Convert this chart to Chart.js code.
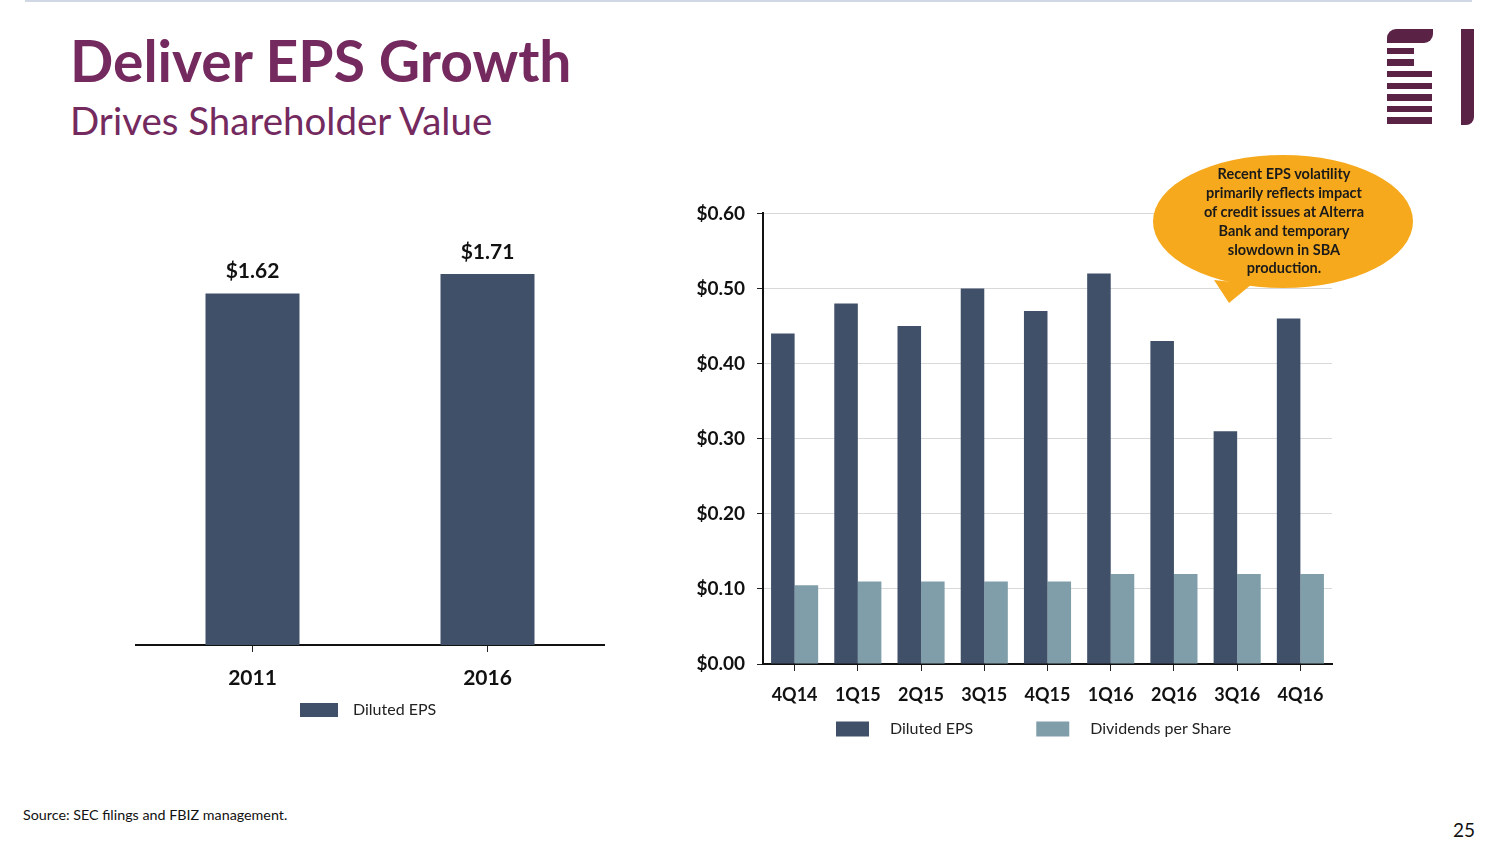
<!DOCTYPE html>
<html>
<head>
<meta charset="utf-8">
<script src="https://cdn.jsdelivr.net/npm/chart.js@4.4.1/dist/chart.umd.min.js"></script>
<style>
  body { margin: 0; width: 1504px; height: 846px; background: #fff; position: relative; overflow: hidden; font-family: Lato, "Open Sans", sans-serif; }
  .topline { position: absolute; left: 25px; top: 0; width: 1447px; height: 2px; background: #cfd8e3; }
  .title { position: absolute; left: 70px; top: 26px; font-size: 57px; font-weight: 700; color: #742a5e; line-height: 1.2; white-space: nowrap; }
  .subtitle { position: absolute; left: 70px; top: 97px; font-size: 38.5px; color: #742a5e; line-height: 1.2; white-space: nowrap; }
  .logo div { position: absolute; background: #5a2346; }
  .box { position: absolute; }
  .source { position: absolute; left: 23px; top: 806px; font-size: 14.3px; color: #111; }
  .pagenum { position: absolute; left: 1453px; top: 818px; font-size: 19px; color: #111; }
  svg.callout { position: absolute; left: 1140px; top: 145px; }
</style>
</head>
<body>
<div class="topline"></div>
<div class="title">Deliver EPS Growth</div>
<div class="subtitle">Drives Shareholder Value</div>

<div class="logo">
  <div style="left:1387px;top:29px;width:46px;height:14px;border-radius:9px 0 9px 0;"></div>
  <div style="left:1387px;top:48px;width:27px;height:6px;"></div>
  <div style="left:1387px;top:59px;width:27px;height:7px;"></div>
  <div style="left:1387px;top:71px;width:45px;height:6px;"></div>
  <div style="left:1387px;top:83px;width:45px;height:6px;"></div>
  <div style="left:1387px;top:94px;width:45px;height:7px;"></div>
  <div style="left:1387px;top:106px;width:45px;height:6px;"></div>
  <div style="left:1387px;top:117px;width:45px;height:7px;"></div>
  <div style="left:1461px;top:29px;width:13px;height:96px;border-radius:0 0 8px 0;"></div>
</div>

<div class="box" style="left:135px;top:190px;width:470px;height:540px;"><canvas id="annualChart"></canvas></div>
<div class="box" style="left:680px;top:190px;width:662px;height:560px;"><canvas id="quarterChart"></canvas></div>

<svg class="callout" width="290" height="170" viewBox="1140 145 290 170">
  <ellipse cx="1283" cy="221.5" rx="130" ry="66.5" fill="#f6a91d"/>
  <polygon points="1214,280 1252,284 1229,303" fill="#f6a91d"/>
  <g font-family="Lato, sans-serif" font-weight="700" font-size="14.5" fill="#1a1a1a" text-anchor="middle" dominant-baseline="central">
    <text x="1284" y="173">Recent EPS volatility</text>
    <text x="1284" y="192">primarily reflects impact</text>
    <text x="1284" y="211">of credit issues at Alterra</text>
    <text x="1284" y="230">Bank and temporary</text>
    <text x="1284" y="249">slowdown in SBA</text>
    <text x="1284" y="267">production.</text>
  </g>
</svg>

<div class="source">Source: SEC filings and FBIZ management.</div>
<div class="pagenum">25</div>

<script>
// ---- data ----
const annualLabels = ["2011", "2016"];
const annualEps = [1.62, 1.71];

const quarterLabels = ["4Q14", "1Q15", "2Q15", "3Q15", "4Q15", "1Q16", "2Q16", "3Q16", "4Q16"];
const quarterEps = [0.44, 0.48, 0.45, 0.50, 0.47, 0.52, 0.43, 0.31, 0.46];
const quarterDividends = [0.105, 0.11, 0.11, 0.11, 0.11, 0.12, 0.12, 0.12, 0.12];

const yTicksQuarter = [0, 0.1, 0.2, 0.3, 0.4, 0.5, 0.6];

const DARK = "#3f5068";
const LIGHT = "#7f9eaa";

// legend drawn under the x axis, boxes + labels from the datasets
const boxLegend = {
  id: "boxLegend",
  afterDraw(chart, args, opts) {
    const { ctx, chartArea } = chart;
    let x = chartArea.left + opts.startX;
    const y = chartArea.bottom + opts.offsetY;
    ctx.save();
    ctx.font = opts.font;
    ctx.textBaseline = "middle";
    chart.data.datasets.forEach(ds => {
      ctx.fillStyle = ds.backgroundColor;
      ctx.fillRect(x, y - opts.boxH / 2, opts.boxW, opts.boxH);
      x += opts.boxW + opts.gap;
      ctx.fillStyle = opts.color;
      ctx.fillText(ds.label, x, y);
      x += ctx.measureText(ds.label).width + opts.spacing;
    });
    ctx.restore();
  }
};

// "$1.62" style labels above bars
const valueLabels = {
  id: "valueLabels",
  afterDatasetsDraw(chart, args, opts) {
    if (!opts.show) return;
    const { ctx } = chart;
    const ds = chart.data.datasets[0];
    ctx.save();
    ctx.font = opts.font;
    ctx.fillStyle = "#111";
    ctx.textAlign = "center";
    ctx.textBaseline = "middle";
    chart.getDatasetMeta(0).data.forEach((bar, i) => {
      ctx.fillText("$" + ds.data[i].toFixed(2), bar.x, bar.y - opts.offset);
    });
    ctx.restore();
  }
};

Chart.register(boxLegend, valueLabels);

function init() {
  new Chart(document.getElementById("annualChart"), {
    type: "bar",
    data: {
      labels: annualLabels,
      datasets: [{ label: "Diluted EPS", data: annualEps, backgroundColor: DARK, categoryPercentage: 0.4, barPercentage: 1 }]
    },
    options: {
      responsive: true,
      maintainAspectRatio: false,
      animation: false,
      layout: { padding: { top: 21, left: 0, right: 0, bottom: 0 } },
      scales: {
        x: {
          grid: { drawOnChartArea: false, offset: false, tickLength: 7, color: "#222", tickColor: "#222" },
          border: { display: true, color: "#111", width: 2 },
          ticks: { font: { family: "Lato", size: 21, weight: "bold" }, color: "#111", padding: 14 },
          afterFit(s) { s.height = 85; }
        },
        y: { display: false, min: 0, max: 2.0 }
      },
      plugins: {
        legend: { display: false },
        tooltip: { enabled: false },
        valueLabels: { show: true, font: "bold 21px Lato", offset: 22 },
        boxLegend: { startX: 165, offsetY: 65, boxW: 38, boxH: 14, gap: 15, spacing: 60, font: "16px Lato", color: "#222" }
      }
    }
  });

  new Chart(document.getElementById("quarterChart"), {
    type: "bar",
    data: {
      labels: quarterLabels,
      datasets: [
        { label: "Diluted EPS", data: quarterEps, backgroundColor: DARK, categoryPercentage: 0.745, barPercentage: 1 },
        { label: "Dividends per Share", data: quarterDividends, backgroundColor: LIGHT, categoryPercentage: 0.745, barPercentage: 1 }
      ]
    },
    options: {
      responsive: true,
      maintainAspectRatio: false,
      animation: false,
      layout: { padding: { top: 22, left: 0, right: 10, bottom: 0 } },
      scales: {
        x: {
          grid: { drawOnChartArea: false, offset: false, tickLength: 7, color: "#222", tickColor: "#222" },
          border: { display: true, color: "#111", width: 2 },
          ticks: { font: { family: "Lato", size: 18, weight: "bold" }, color: "#111", padding: 13 },
          afterFit(s) { s.height = 86; }
        },
        y: {
          min: 0,
          max: 0.6,
          afterBuildTicks(s) { s.ticks = yTicksQuarter.map(v => ({ value: v })); },
          grid: { color: "#d9d9d9", tickLength: 6, tickColor: "#222", lineWidth: 1 },
          border: { display: true, color: "#111", width: 2 },
          ticks: {
            font: { family: "Lato", size: 19, weight: "bold" },
            color: "#111",
            padding: 12,
            callback: v => "$" + Number(v).toFixed(2)
          },
          afterFit(s) { s.width = 83; }
        }
      },
      plugins: {
        legend: { display: false },
        tooltip: { enabled: false },
        valueLabels: { show: false },
        boxLegend: { startX: 73, offsetY: 65, boxW: 33, boxH: 15, gap: 21, spacing: 63, font: "16px Lato", color: "#222" }
      }
    }
  });
}

document.fonts.load("bold 16px Lato").then(init, init);
</script>
</body>
</html>
